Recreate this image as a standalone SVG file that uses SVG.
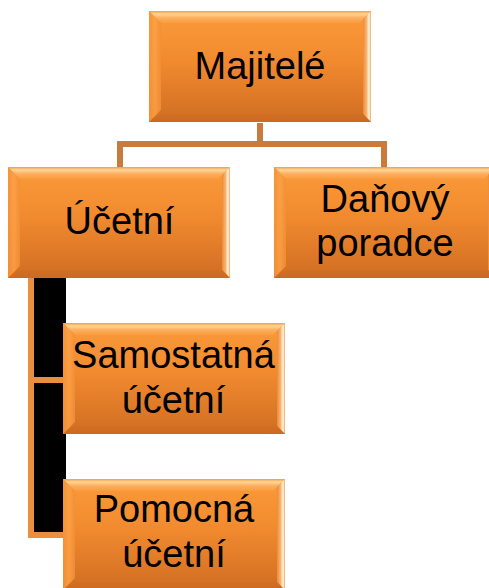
<svg xmlns="http://www.w3.org/2000/svg" xmlns:xlink="http://www.w3.org/1999/xlink" width="489" height="588" viewBox="0 0 489 588">
<style>
.lbl{font-family:"Liberation Sans",Arial,sans-serif;font-size:38px;fill:#000;text-anchor:middle}
.conn{fill:none;stroke:#C97B3E;stroke-width:6}
.conn2{fill:none;stroke:#E98F3F;stroke-width:6}
.blk{fill:#000}
</style>
<defs>
<linearGradient id="body" x1="0" y1="0" x2="0" y2="1">
<stop offset="0" stop-color="#FB9B3A"/>
<stop offset="0.45" stop-color="#F18A2F"/>
<stop offset="1" stop-color="#D06D22"/>
</linearGradient>
<linearGradient id="topb" x1="0" y1="0" x2="0" y2="1">
<stop offset="0" stop-color="#F99A3C"/>
<stop offset="0.25" stop-color="#FFD79A"/>
<stop offset="0.55" stop-color="#FDB062"/>
<stop offset="1" stop-color="#FA9C3E"/>
</linearGradient>
<linearGradient id="leftb" x1="0" y1="0" x2="1" y2="0">
<stop offset="0" stop-color="#F69235"/>
<stop offset="0.5" stop-color="#FBA24A"/>
<stop offset="1" stop-color="#F38E33"/>
</linearGradient>
<linearGradient id="rightb" x1="0" y1="0" x2="1" y2="0">
<stop offset="0" stop-color="#EE8A34"/>
<stop offset="0.45" stop-color="#F6B574"/>
<stop offset="0.75" stop-color="#FFF6E0"/>
<stop offset="1" stop-color="#EFA867"/>
</linearGradient>
<linearGradient id="botb" x1="0" y1="0" x2="0" y2="1">
<stop offset="0" stop-color="#D06D22"/>
<stop offset="1" stop-color="#C9681F"/>
</linearGradient>
<g id="box">
<rect x="0" y="0" width="222" height="111" fill="url(#body)"/>
<polygon points="0,0 222,0 210,12 12,12" fill="url(#topb)"/>
<polygon points="0,0 12,12 12,99 0,111" fill="url(#leftb)" opacity="0.85"/>
<polygon points="222,0 222,111 214,103 214,8" fill="url(#rightb)"/>
<polygon points="0,111 222,111 214,103 12,103" fill="url(#botb)" opacity="0.6"/>
</g>
</defs>
<g id="connectors">
<path class="conn" d="M260,123 V144 M120,144 H384 M120,141 V167 M384,141 V167"/>
<rect class="blk" x="31" y="278" width="35" height="102"/>
<rect class="blk" x="31" y="380" width="35" height="155"/>
<path class="conn2" d="M31,278 V535 H63 M31,380 H63"/>
</g>
<g id="node-majitele">
<use xlink:href="#box" transform="translate(149,11)"/>
<text class="lbl" x="260" y="79">Majitelé</text>
</g>
<g id="node-ucetni">
<use xlink:href="#box" transform="translate(8,167)"/>
<text class="lbl" x="119.5" y="234">Účetní</text>
</g>
<g id="node-danovy">
<use xlink:href="#box" transform="translate(274,167)"/>
<text class="lbl" x="385" y="212">Daňový</text>
<text class="lbl" x="385" y="256">poradce</text>
</g>
<g id="node-samostatna">
<use xlink:href="#box" transform="translate(63,323)"/>
<text class="lbl" x="173.5" y="368">Samostatná</text>
<text class="lbl" x="173.5" y="413">účetní</text>
</g>
<g id="node-pomocna">
<use xlink:href="#box" transform="translate(63,479)"/>
<text class="lbl" x="174" y="522">Pomocná</text>
<text class="lbl" x="174" y="567">účetní</text>
</g>
</svg>
